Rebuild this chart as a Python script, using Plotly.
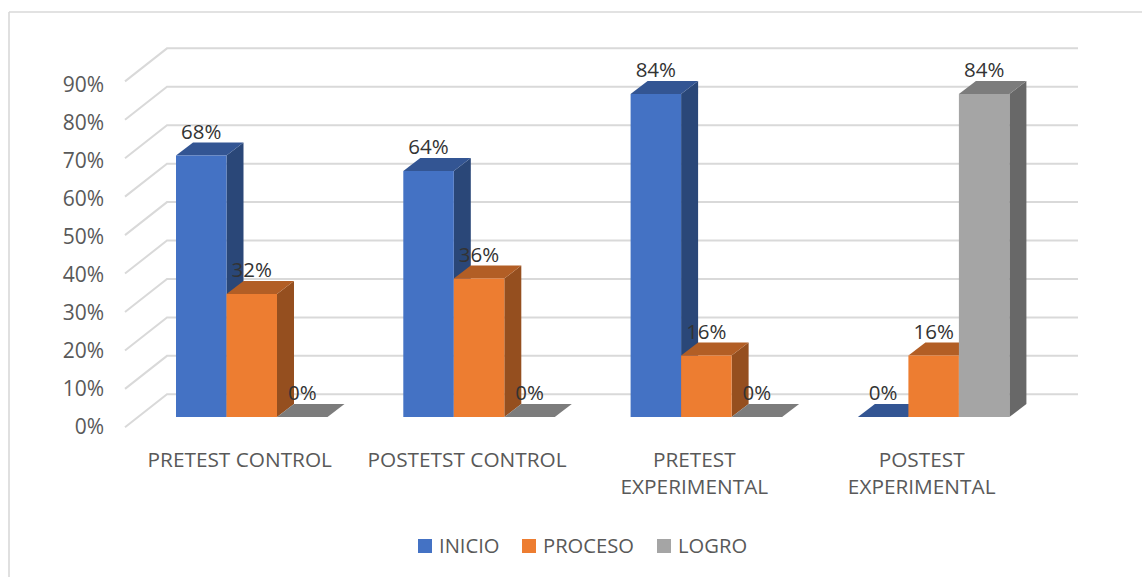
import plotly.graph_objects as go

# Chart data
categories = ["PRETEST CONTROL", "POSTETST CONTROL", "PRETEST<br>EXPERIMENTAL", "POSTEST<br>EXPERIMENTAL"]
series_names = ["INICIO", "PROCESO", "LOGRO"]
inicio = [68, 64, 84, 0]
proceso = [32, 36, 16, 16]
logro = [0, 0, 0, 84]
tick_values = list(range(0, 100, 10))
tick_labels = [f"{v}%" for v in tick_values]

series_values = [inicio, proceso, logro]
front_colors = ["#4472C4", "#ED7D31", "#A5A5A5"]
top_colors = ["#335593", "#B25E25", "#7C7C7C"]
side_colors = ["#2A4778", "#954F1F", "#686868"]

WIDTH, HEIGHT = 1142, 577
FONT = "Open Sans"
GRID = "#D9D9D9"
TEXT = "#595959"

# Oblique projection: pixels per category and per percentage point
CAT_PX = 227.3
FIRST_CENTER_PX = 251.75
PCT_PX = 3.844
BAR_W = 50.5 / CAT_PX
BAR_DX = 17 / CAT_PX
BAR_DY = 13 / PCT_PX
WALL_DX = 42 / CAT_PX
WALL_DY = 33 / PCT_PX

# Key layout along the bottom of the chart: swatch left edge, in pixels
KEY_SWATCH_PX = [418, 522, 657]
KEY_SWATCH_SIZE = 14
KEY_CENTER_PX = 546


def x_at(px):
    return (px - FIRST_CENTER_PX) / CAT_PX


def y_range(zero_px, pct_px):
    return [(zero_px - HEIGHT) / pct_px, zero_px / pct_px]


fig = go.Figure()

# Tick-label carrier on the base axis
fig.add_trace(go.Scatter(x=[0] * len(tick_values), y=tick_values, mode="markers",
                         marker=dict(opacity=0), showlegend=False, hoverinfo="skip",
                         xaxis="x", yaxis="y"))

# Side wall and back wall gridlines
wall_left, wall_right = x_at(125), x_at(1078)
for v in tick_values:
    fig.add_trace(go.Scatter(x=[wall_left, wall_left + WALL_DX, wall_right],
                             y=[v, v + WALL_DY, v + WALL_DY], mode="lines",
                             line=dict(color=GRID, width=2), showlegend=False,
                             hoverinfo="skip", xaxis="x", yaxis="y2"))

# Side and top faces, left to right
for g in range(len(categories)):
    for s, values in enumerate(series_values):
        v = values[g]
        left = g + (s - 1.5) * BAR_W
        right = left + BAR_W
        if v > 0:
            fig.add_trace(go.Scatter(
                x=[right, right + BAR_DX, right + BAR_DX, right, right],
                y=[0, BAR_DY, v + BAR_DY, v, 0], mode="lines", fill="toself",
                fillcolor=side_colors[s], line=dict(width=0), showlegend=False,
                hoverinfo="skip", xaxis="x", yaxis="y3"))
        fig.add_trace(go.Scatter(
            x=[left, left + BAR_DX, right + BAR_DX, right, left],
            y=[v, v + BAR_DY, v + BAR_DY, v, v], mode="lines", fill="toself",
            fillcolor=top_colors[s], line=dict(width=0), showlegend=False,
            hoverinfo="skip", xaxis="x", yaxis="y3"))

# Front faces
positions = list(range(len(categories)))
for s, values in enumerate(series_values):
    fig.add_trace(go.Bar(x=positions, y=values, name=series_names[s],
                         marker=dict(color=front_colors[s], line=dict(width=0)),
                         showlegend=False, xaxis="x", yaxis="y4"))

# Value labels above each bar
for s, values in enumerate(series_values):
    fig.add_trace(go.Scatter(
        x=[g + (s - 1) * BAR_W for g in positions],
        y=[v + BAR_DY - 0.35 for v in values],
        text=[f"{v}%" for v in values], mode="text", textposition="top center",
        textfont=dict(family=FONT, size=20.5, color="#333333"),
        showlegend=False, hoverinfo="skip", xaxis="x", yaxis="y4"))

# Key along the bottom edge
key_shapes = []
key_notes = []
for name, color, px in zip(series_names, front_colors, KEY_SWATCH_PX):
    half = KEY_SWATCH_SIZE / 2
    key_shapes.append(dict(type="rect", xref="paper", yref="paper", line=dict(width=0),
                           fillcolor=color, x0=px / WIDTH, x1=(px + KEY_SWATCH_SIZE) / WIDTH,
                           y0=1 - (KEY_CENTER_PX + half) / HEIGHT,
                           y1=1 - (KEY_CENTER_PX - half) / HEIGHT))
    key_notes.append(dict(text=name, xref="paper", yref="paper", showarrow=False,
                          x=(px + KEY_SWATCH_SIZE + 5) / WIDTH, xanchor="left",
                          y=1 - (KEY_CENTER_PX - 1) / HEIGHT, yanchor="middle",
                          font=dict(family=FONT, size=20.2, color=TEXT)))

hidden = dict(visible=False, overlaying="y", anchor="x", fixedrange=True)
fig.update_layout(
    width=WIDTH, height=HEIGHT, margin=dict(l=0, r=0, t=0, b=0),
    paper_bgcolor="white", plot_bgcolor="rgba(0,0,0,0)",
    barmode="group", bargap=1 - 3 * BAR_W, bargroupgap=0,
    showlegend=False,
    font=dict(family=FONT, color=TEXT),
    xaxis=dict(range=[x_at(0), x_at(WIDTH)], domain=[0, 1], anchor="free",
               position=1 - 445 / HEIGHT, showgrid=False, zeroline=False, showline=False,
               tickmode="array", tickvals=[g - 12 / CAT_PX for g in positions],
               ticktext=categories, ticks="", tickangle=0,
               tickfont=dict(family=FONT, size=20.8, color=TEXT), fixedrange=True),
    yaxis=dict(range=y_range(426.5, 3.8), domain=[0, 1], anchor="free", position=104 / WIDTH,
               showgrid=False, zeroline=False, showline=False, tickmode="array",
               tickvals=tick_values, ticktext=tick_labels, ticks="",
               tickfont=dict(family=FONT, size=21, color=TEXT), fixedrange=True),
    yaxis2=dict(range=y_range(427.3, PCT_PX), **hidden),
    yaxis3=dict(range=y_range(417, PCT_PX), **hidden),
    yaxis4=dict(range=y_range(417, PCT_PX), **hidden),
    shapes=[
        dict(type="line", xref="paper", yref="paper", x0=9 / WIDTH, x1=1, y0=1 - 12 / HEIGHT,
             y1=1 - 12 / HEIGHT, line=dict(color=GRID, width=1.6), layer="below"),
        dict(type="line", xref="paper", yref="paper", x0=9 / WIDTH, x1=9 / WIDTH, y0=0,
             y1=1 - 12 / HEIGHT, line=dict(color=GRID, width=1.6), layer="below"),
    ] + key_shapes,
    annotations=key_notes,
)

fig.write_html("out.html", config=dict(displayModeBar=False))
